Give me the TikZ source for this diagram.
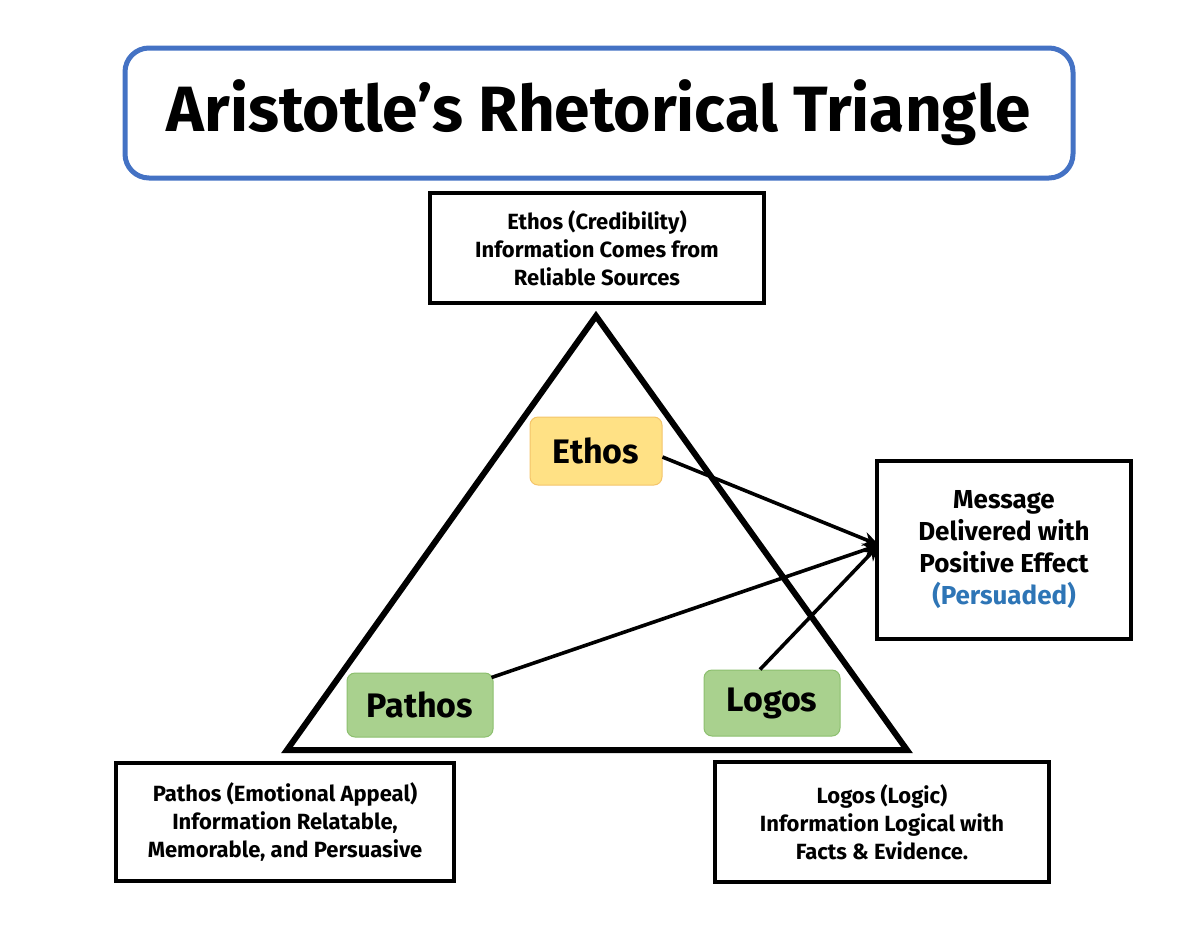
\documentclass[tikz,border=0pt]{standalone}
\usepackage{fontspec}
\setmainfont{Fira Sans}
\usetikzlibrary{positioning,arrows.meta}
\definecolor{titleblue}{HTML}{4472C4}
\definecolor{ethosfill}{HTML}{FFD966}
\definecolor{ethosdraw}{HTML}{F4C46A}
\definecolor{greenfill}{HTML}{A9D18E}
\definecolor{greendraw}{HTML}{8CBF6E}
\definecolor{persblue}{HTML}{2E75B6}
\tikzset{
  infobox/.style={draw=black, line width=1.6pt, align=center, font=\bfseries\fontsize{11}{14}\selectfont, inner sep=0pt},
  pill/.style={rounded corners=4pt, line width=0.5pt, font=\bfseries\fontsize{17}{20}\selectfont, inner sep=0pt},
  link/.style={line width=1.8pt, -{Stealth[length=8pt,width=7pt]}}
}
\begin{document}
\begin{tikzpicture}[x=0.5pt, y=-0.5pt]
  \useasboundingbox (0,0) rectangle (1200,927);
  % title
  \node[draw=titleblue, line width=2.5pt, rounded corners=12pt, minimum width=474pt, minimum height=65pt,
        inner sep=0pt, font=\bfseries\fontsize{32}{36}\selectfont] (title) at (599,113)
        {Aristotle{\char"0027}s Rhetorical Triangle};
  % triangle
  \coordinate (apex) at (596,316);
  \coordinate (left) at (287,750);
  \coordinate (right) at (907,750);
  \draw[line width=3pt, line join=miter] (apex) -- (left) -- (right) -- cycle;
  % description boxes
  \node[infobox, minimum width=167pt, minimum height=55pt] (ethosbox) at (597,248)
    {Ethos (Credibility)\\Information Comes from\\Reliable Sources};
  \node[infobox, minimum width=169pt, minimum height=59pt] (pathosbox) at (285,822)
    {Pathos (Emotional Appeal)\\Information Relatable,\\Memorable, and Persuasive};
  \node[infobox, minimum width=167pt, minimum height=60pt] (logosbox) at (882,822)
    {Logos (Logic)\\Information Logical with\\Facts \& Evidence.};
  \node[infobox, font=\bfseries\fontsize{13}{16}\selectfont, minimum width=127pt, minimum height=89pt] (message) at (1004,550)
    {Message\\Delivered with\\Positive Effect\\\textcolor{persblue}{(Persuaded)}};
  % appeals
  \node[pill, fill=ethosfill!80, draw=ethosdraw, minimum width=66pt, minimum height=34pt] (ethos) at (596,451) {Ethos};
  \node[pill, fill=greenfill, draw=greendraw, minimum width=73pt, minimum height=32pt] (pathos) at (420,705) {Pathos};
  \node[pill, fill=greenfill, draw=greendraw, minimum width=68pt, minimum height=33pt] (logos) at (772,703) {Logos};
  % arrows
  \coordinate (target) at (879,545);
  \draw[link] (ethos.east) ++(0,6) -- (target);
  \draw[link] (pathos.north east) ++(-2,5) -- (target);
  \draw[link] (logos.north) ++(-12,0) -- (target);
\end{tikzpicture}
\end{document}
